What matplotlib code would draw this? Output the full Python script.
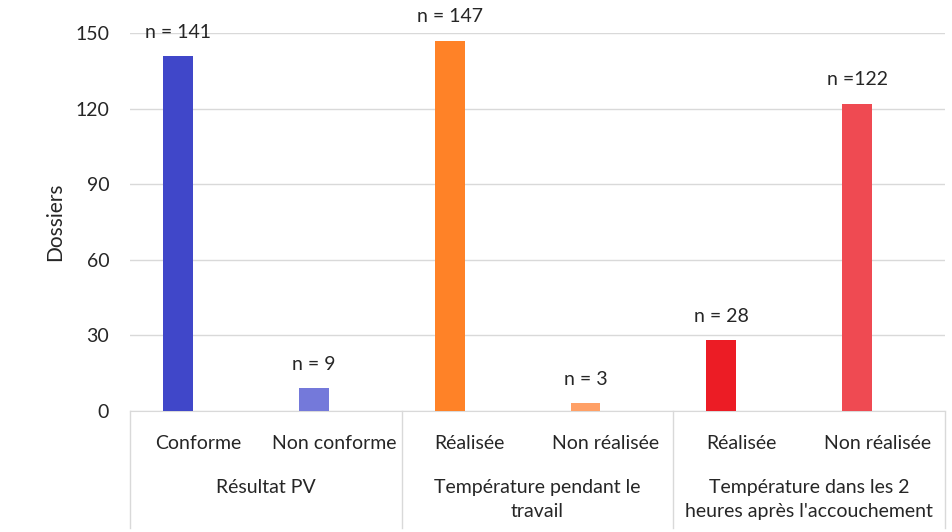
import matplotlib
matplotlib.use("Agg")
import matplotlib.pyplot as plt

# Data
categories = ['Conforme', 'Non conforme', 'Réalisée', 'Non réalisée', 'Réalisée', 'Non réalisée']
values = [141, 9, 147, 3, 28, 122]
value_labels = ['n = 141', 'n = 9', 'n = 147', 'n = 3', 'n = 28', 'n =122']
colors = ['#4047C9', '#7479DA', '#FF8227', '#FFA066', '#EC1C25', '#EF4A52']
groups = ['Résultat PV', 'Température pendant le\ntravail', 'Température dans les 2\nheures après l\'accouchement']
group_sizes = [2, 2, 2]
yticks = [0, 30, 60, 90, 120, 150]

fs = 14
plt.rcParams['font.family'] = ['Lato', 'DejaVu Sans']
fig = plt.figure(figsize=(9.53, 5.32), dpi=100)
ax = fig.add_axes([130/953, 121/532, 815/953, 378/532])

x = list(range(len(categories)))
bar_x = [i - 0.147 for i in x]
ax.bar(bar_x, values, width=0.22, color=colors, zorder=3)

for bx, v, lab in zip(bar_x, values, value_labels):
    ax.annotate(lab, (bx, v), xytext=(0, 17), textcoords='offset points',
                ha='center', va='center', fontsize=fs, color='#262626')

ax.set_xlim(-0.5, len(categories) - 0.5)
ax.set_ylim(0, 150)
ax.set_yticks(yticks)
ax.tick_params(axis='y', length=0, pad=15, labelsize=fs, labelcolor='#262626')
ax.set_xticks(x)
ax.set_xticklabels(categories, fontsize=fs, color='#262626')
ax.tick_params(axis='x', length=0, pad=17)
ax.grid(axis='y', color='#d9d9d9', linewidth=1, zorder=0)
for s in ['top', 'right', 'left']:
    ax.spines[s].set_visible(False)
ax.spines['bottom'].set_color('#d9d9d9')
ax.set_ylabel('Dossiers', fontsize=fs + 1, color='#262626', labelpad=7)

# group separators and group labels
trans = ax.get_xaxis_transform()
edge = -0.5
ax.plot([edge, edge], [0, -0.31], transform=trans, color='#d9d9d9', lw=1, clip_on=False)
for g, n in zip(groups, group_sizes):
    start = edge
    edge = edge + n
    ax.plot([edge, edge], [0, -0.31], transform=trans, color='#d9d9d9', lw=1, clip_on=False)
    ax.text((start + edge) / 2, -0.18, g, transform=trans, ha='center', va='top',
            fontsize=fs, color='#262626', linespacing=1.5)

fig.savefig('out.png', dpi=100)
